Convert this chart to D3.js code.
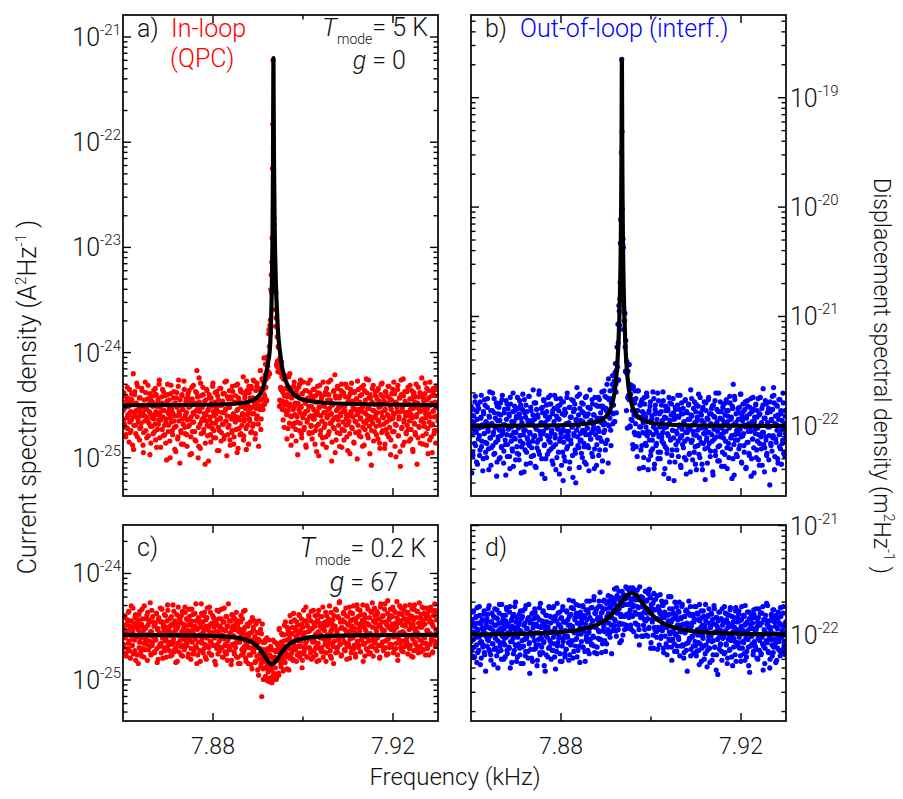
<!DOCTYPE html>
<html>
<head>
<meta charset="utf-8">
<script src="https://cdn.jsdelivr.net/npm/d3@7"></script>
<style>
  html, body { margin: 0; padding: 0; background: #fff; }
  svg { display: block; font-family: Roboto, "Open Sans", sans-serif; font-weight: 300; }
</style>
</head>
<body>
<svg id="chart" width="903" height="799"></svg>
<script>
// ---------------- data ----------------
// Frequency axis (kHz): spectrum bins are evenly spaced between these limits
const freqStart = 7.86;
const freqStop = 7.93;
const binCount = 1000;
const xMajorTicks = [7.88, 7.92];
const xMinorTicks = [7.90];

// Noise floor of each spectrum (A^2/Hz for a,c; m^2/Hz for b,d)
const aFloor = 3.16e-25;
const bFloor = 1.0e-22;
const cFloor = 2.66e-25;
const dFloor = 1.0e-22;

// Measured points: level of each bin relative to the floor, in 1/100 decade.
// Each spectrum is stored as its even-numbered bins and its odd-numbered bins.
const aEvenBins = [
-5,12,-18,-2,-30,8,-12,-22,3,-9,15,-26,-6,-14,5,-38,30,-19,10,-8,-27,2,-11,18,-16,
-4,-33,7,-21,-10,14,-7,-45,0,-15,22,-24,-3,-12,6,-29,-17,11,-8,-36,4,-20,-1,9,-13,
-25,16,-6,-40,-9,3,-18,20,-31,-2,-14,8,-23,-11,13,-5,-28,1,-16,-52,10,-7,-19,5,-34,
-12,19,-3,-24,-8,7,-15,-42,2,-20,12,-10,-30,24,-6,-55,0,-26,9,-13,-4,-37,15,-21,-9,
6,-28,-14,11,-2,-19,-47,4,-11,17,-25,-7,-16,1,-33,13,-5,33,8,-50,-39,3,-18,21,-27,
-1,-13,10,-23,-8,-56,5,-15,14,-29,-4,-20,7,-11,-35,2,-17,18,-6,-24,-9,12,-31,-3,-14,
9,-21,-43,0,-12,16,-26,-7,4,-18,-32,11,-5,-15,23,-10,-28,6,-19,-2,-38,8,-13,-24,13,
-8,-30,3,-16,19,-11,-45,-4,7,-22,-14,15,-27,-1,-9,12,-33,-15,7,-3,-22,23,-9,0,-37,
12,-15,-3,18,-25,-8,7,-18,23,1,-27,-3,18,-10,7,-39,16,-4,33,-13,6,24,-4,22,10,
8,39,25,5,44,27,68,56,76,69,124,136,225,328,196,172,110,75,83,37,42,56,37,-1,45,
17,2,27,4,-14,25,9,-5,28,3,-32,10,-5,27,-17,1,14,-11,-29,9,-4,18,-17,2,-23,
14,-11,-47,8,-4,20,-17,-1,-27,11,-10,22,-23,-8,2,-38,14,-16,-5,7,-26,-11,24,-20,-1,
-32,6,-13,15,-9,-24,3,-44,-6,12,-18,-2,19,-28,-10,8,-15,-37,1,-21,10,-7,-30,16,-12,
-4,22,-25,-9,5,-17,-53,0,-14,13,-22,29,9,-33,-11,18,-3,-19,7,-27,-8,14,-40,-1,-16,
11,-24,-5,20,-13,-30,2,-18,8,-10,-46,15,-7,-21,4,-2,-35,12,-15,-26,6,-9,23,-19,-4,
-29,9,-12,17,-6,-39,1,-16,14,-23,-8,25,-14,-3,-31,7,-20,10,-11,-57,3,-17,19,-5,-25,
13,-9,-28,6,-14,16,-2,-36,-19,10,-7,21,-24,-12,4,-41,-4,12,-16,-27,8,-10,18,-21,-1,
-33,5,-13,15,-8,-25,11,-18,-49,2,-6,19,-29,-11,7,-58,24,-22,-3,-38,9,-14,13,-7,-26,
1,-19,17,-10,-34,6,-4,-23,14,-12,-44,10,-17,3,-28,20,-9,-2,-31,8,-21,12,-6,-15,26,
-13,-37,4,-20,11,-8,-27,16,-3,-46,7,-16,22,-11,-30,2,-18,13,-5,-24,9,-36,15,-10,-1
];
const aOddBins = [
-14,-3,9,-21,-28,4,17,-9,-1,-35,-16,6,-24,11,2,-11,-42,-7,13,-19,-5,21,-30,-13,0,
7,-22,-8,-17,16,-2,-38,-26,5,-10,12,-4,-31,-15,19,1,-6,-47,-20,8,-12,3,-27,14,-9,
-18,-33,10,-1,-23,6,-14,24,-7,-40,-11,2,15,-29,-5,-19,9,-36,-13,4,20,-25,-8,-3,-50,
11,-16,-6,-28,1,13,-21,-10,-44,7,-2,-32,18,-15,-9,5,-24,-37,10,-4,-18,23,-12,-27,3,
-7,-39,8,-20,14,-13,-1,-30,-46,6,-16,19,-8,-25,2,-34,12,-11,-3,-21,26,-6,-41,9,-15,
-2,17,-26,-12,4,-36,-9,15,-19,-5,-53,10,-14,-28,7,-1,-22,21,-31,-10,3,-17,-8,13,-43,
-6,5,-24,16,-13,-34,0,-18,11,-7,-29,22,-4,-15,-48,8,-21,-2,14,-33,-11,6,-26,18,-9,
-37,2,-14,9,-23,-5,20,-41,-12,4,-28,13,-1,-19,-8,27,-29,-13,10,0,-42,14,-19,-7,18,
-13,7,-26,16,-2,-20,24,-8,4,-32,14,-13,21,3,-18,15,-1,33,-23,5,25,0,15,45,1,
29,17,4,46,37,32,72,30,81,110,107,159,267,244,178,126,91,107,39,65,32,55,34,5,31,
15,41,-4,12,25,-21,0,16,27,-9,8,-22,15,-1,30,-10,-38,7,17,-20,-2,22,-9,0,-34,
10,-16,2,17,-24,-7,24,-2,-31,11,-12,5,-21,14,-6,-40,6,-14,21,-1,-27,12,-10,-19,9,
-26,15,-4,-13,-37,9,-20,3,18,-9,-48,-2,11,-24,6,-15,-31,22,-7,-1,-18,13,-40,-11,5,
-28,10,-3,-17,24,-8,-35,1,-21,14,-12,-45,7,-5,-26,16,-14,-2,-39,9,-10,20,-23,-6,12,
-33,-1,8,-19,-9,17,-43,4,-15,-27,11,-6,21,-22,-11,2,-36,13,-4,-16,6,-51,-8,15,-25,
3,-13,-30,10,-2,-21,19,-38,-7,5,-17,12,-28,-10,24,-3,-46,7,-14,-24,16,-5,-34,1,-12,
9,-20,-7,14,-32,-15,4,-41,-1,20,-26,-11,8,-18,-5,-37,13,-23,2,-9,18,-30,-14,6,-47,
-4,11,-25,-12,22,-8,-39,3,-19,-2,15,-29,-13,7,-44,-6,10,-21,-1,25,-16,-35,4,-10,-27,
13,-7,-23,1,-15,19,-32,-9,6,-42,-3,12,-18,-26,8,-11,-56,2,17,-20,-5,-36,10,-14,-1,
-29,7,-17,-4,21,-12,-38,5,-22,-8,14,-33,0,-19,9,-45,-6,16,-27,-11,3,-24,18,-2,-15
];

const bEvenBins = [
18,-43,4,-27,9,-3,22,-18,-6,13,-35,0,16,-9,-22,7,28,-14,-1,-30,11,-7,19,-24,3,
-16,25,-5,-40,8,-11,14,-20,2,30,-8,-26,12,-2,-15,21,-33,5,-10,17,-4,-29,10,-19,24,
-7,1,-23,15,-13,-45,6,20,-17,-3,11,-28,26,-9,-1,-21,13,-37,4,18,-12,-6,9,-25,16,
-2,-31,23,-14,7,-19,0,29,-8,-42,12,-4,19,-24,-11,5,-16,27,-6,-34,14,-20,2,10,-27,
21,-9,-1,-38,15,-15,8,-23,32,-5,-12,3,-30,17,-7,24,-18,-48,9,-2,13,-26,6,-13,20,
-10,28,-21,-4,11,-35,1,16,-8,-17,25,-29,7,-3,14,-44,19,-11,-6,22,-24,-50,-15,10,-32,
12,-5,26,-19,-9,3,-39,17,-13,8,-1,-27,23,-7,15,-22,-52,6,35,-10,0,-20,29,-14,5,
-25,13,-4,20,-16,-33,9,-8,27,-2,-18,11,-41,4,16,-12,-6,24,-28,1,10,-21,-3,19,-36,
7,-11,26,-5,-22,18,7,-14,-42,18,1,32,-4,-22,16,26,-13,10,43,0,7,25,-18,22,38,
2,19,41,4,57,31,51,41,93,42,105,116,167,188,335,198,171,88,96,103,50,49,59,-2,50,
28,56,0,29,6,34,14,-21,24,-6,32,2,-19,14,32,-7,8,-39,19,-1,22,-18,13,3,-29,
26,-7,8,-18,27,-5,-40,12,-13,18,-27,3,9,-21,-8,25,-35,15,-3,-16,6,30,-24,-10,11,
-30,2,19,-14,-6,23,-44,8,-19,14,-1,-25,16,-9,26,-33,5,-12,20,-22,-4,12,-50,7,17,
-17,9,-7,28,-28,1,15,-11,-38,21,-3,11,-20,4,-14,24,-31,13,-6,-2,19,-26,6,-42,10,
25,-13,-5,16,-24,3,-35,20,-9,8,-18,29,-1,-29,12,-15,5,-40,17,-7,22,-21,-3,14,-11,
-34,6,26,-16,0,-23,11,-8,18,-45,9,-12,23,-27,2,15,-5,-19,30,-32,7,-10,13,-2,-24,
19,-6,-37,10,-14,24,-20,4,14,-29,-1,21,-11,8,-48,16,38,-17,27,-8,3,-26,12,-13,6,
-21,17,-3,29,-33,9,-9,13,-18,1,22,-39,7,-15,18,-5,-25,11,-1,25,-30,4,-12,15,-43,
8,-7,20,-22,14,-2,-31,10,-16,26,-10,3,-36,19,-6,7,-20,23,-13,-27,12,-1,16,-9,-54,
13,-18,5,27,-11,35,21,-28,9,-15,1,18,-34,6,-8,24,-21,11,-3,-16,30,-25,2,14,-7
];
const bOddBins = [
10,-8,-24,15,3,-16,27,-5,-33,6,19,-12,-2,-27,22,8,-19,1,-41,13,-7,24,-15,4,-29,
17,-3,-21,9,31,-11,-36,2,14,-18,-6,25,-25,7,-1,-46,18,-13,11,-30,5,21,-9,-20,28,
-4,-34,12,1,-17,23,-8,-28,16,-2,9,-39,20,-14,4,-23,30,-6,-11,14,-31,7,-19,26,-1,
-26,11,-9,19,-43,3,15,-16,-4,24,-22,8,-35,13,-12,2,27,-18,-7,17,-28,5,-14,33,-10,
6,-37,21,-3,-20,10,-13,29,-26,1,-8,16,-44,12,-5,23,-17,3,-30,19,-9,-1,26,-23,8,
-15,20,-6,-32,14,-19,4,28,-11,-40,9,-2,18,-24,6,-14,25,-7,-36,11,-3,22,-28,15,-10,
2,-21,30,-12,-5,17,-33,8,-16,24,-1,-47,13,-9,20,-25,5,-4,27,-18,10,-38,16,-7,-13,
21,-29,4,12,-19,-6,26,-35,9,-2,17,-20,-8,33,-12,5,-25,20,-3,10,-39,26,-8,4,-17,
18,-2,-27,24,-11,12,3,31,-32,16,-6,3,27,-16,14,38,1,-34,24,13,32,-4,21,12,46,
11,34,4,49,38,12,72,54,76,110,92,131,189,250,269,166,163,88,96,72,78,14,48,26,56,
24,38,-1,25,37,5,-17,36,10,21,-8,25,9,-28,14,32,-9,-1,19,-22,8,24,-6,-38,11,
20,-16,-1,30,-9,4,-31,14,-6,22,-23,6,-13,31,-1,-39,11,19,-18,-6,12,-30,23,-9,-1,
-24,13,-10,5,31,-16,-2,-39,18,7,-21,-7,14,-48,2,21,-13,10,-27,-4,25,-11,6,-33,15,
-5,-22,19,-14,8,-1,28,-36,11,-9,-17,16,3,-29,23,-6,-44,12,-12,6,20,-25,-3,33,-15,
9,-31,1,-8,22,-19,13,-40,5,-4,18,-26,-11,26,-2,10,-35,15,-16,3,-7,-49,21,-13,7,
-20,24,-6,11,-28,2,16,-14,-42,19,-3,8,-23,30,-10,4,-32,13,-1,-18,22,-8,-37,6,17,
-11,3,-26,21,-5,14,-39,9,-16,-2,27,-21,6,-9,18,-30,1,-45,24,-13,11,-4,-28,16,-7,
12,-18,29,-10,-34,5,20,-7,-24,15,-1,-38,9,23,-15,2,-27,17,-5,-46,13,-12,26,-20,4,
-3,19,-29,8,-14,25,-8,-36,11,1,-21,16,-6,34,-17,-42,7,-10,20,-25,3,13,-31,-1,22,
-16,6,-23,15,-9,28,-40,2,-12,19,-4,-30,10,24,-19,-7,14,-35,5,-13,21,-2,-27,9,-11
];

const cEvenBins = [
5,-12,18,-3,9,-20,1,14,-8,22,-15,6,-1,27,-10,3,-18,11,-5,16,-24,8,-2,13,-27,
19,-7,2,-16,10,24,-13,4,-21,7,-4,15,-9,0,21,-14,12,-6,30,-19,3,-10,17,-2,8,
-17,11,-5,20,-26,6,14,-11,1,25,-8,-1,12,-22,9,4,-15,18,-3,7,-12,23,0,-7,15,
-20,2,10,-9,28,-4,-16,13,5,-12,19,-25,8,-1,16,-6,11,-19,3,22,-10,6,-14,26,-3,
9,-8,14,-21,1,17,-5,11,-13,24,4,-18,7,-2,20,-11,13,-27,6,-7,15,0,-15,10,29,
-4,12,-17,3,21,-9,8,-23,16,-1,5,-12,26,-6,10,-19,2,18,-10,7,-3,14,-28,11,23,
-9,3,15,-15,8,-3,24,-12,5,-21,12,-1,-9,17,-18,8,-6,29,-14,1,-11,13,-24,5,-1,
17,-16,5,-8,11,-21,8,-3,-27,13,-7,5,18,-19,1,-13,22,-15,7,-6,-25,0,10,-12,-2,
-19,11,-6,-28,2,16,-15,5,-11,-2,-25,10,-20,-8,2,-38,-5,-18,5,-27,-58,10,-32,-17,-25,
-7,-39,-17,-3,-28,-35,-14,-44,-19,-11,-33,-45,-43,-5,-36,-21,-38,-15,-42,-8,-24,-14,-38,6,-16,
-27,-7,-20,0,-34,-6,9,-26,-11,-18,7,-13,4,-33,-3,18,-19,1,-13,7,-23,-6,14,-14,4,
-25,-2,9,-11,19,-17,2,-6,15,-31,7,-1,-18,13,-12,26,-6,9,-21,3,17,-13,-3,13,-23,
6,-7,23,-15,8,0,-19,12,-10,19,3,-24,11,-3,17,-12,6,26,-16,8,-5,12,-25,18,0,
-11,15,-4,10,-20,21,5,-8,14,-27,8,-1,24,-12,4,-16,17,-5,30,-9,12,-20,7,14,-2,
21,-14,5,-8,18,-23,10,3,-11,26,-4,13,-17,8,20,-1,-13,15,2,-21,11,28,-6,17,-10,
6,23,-16,9,-3,14,-25,12,19,-8,4,-13,27,-2,10,-18,16,1,-11,22,-5,7,-20,13,25,
-7,11,3,-15,20,-1,15,-22,8,29,-10,5,17,-14,2,24,-6,12,-19,9,32,-4,14,-12,6,
18,-9,10,26,-17,4,-2,21,-13,7,16,-24,11,1,27,-8,13,-15,19,3,-6,23,-11,8,15,
-3,20,-18,12,5,28,-10,9,-1,17,-21,14,24,-7,6,-14,22,2,-12,11,30,-5,16,-16,7,
13,-8,25,-2,10,-19,18,4,-13,21,1,15,-9,26,-4,12,-17,8,19,-6,23,-11,3,14,-1
];
const cOddBins = [
-9,4,16,-2,-17,10,3,-13,21,-6,8,-22,13,0,-10,25,-4,7,-15,19,-1,11,-19,5,14,
-12,22,-3,8,-20,15,1,-8,27,-14,6,-5,18,-24,9,-1,14,-11,3,-18,23,-7,12,-2,-16,
10,-4,20,-13,5,-23,16,2,-9,12,-17,24,-3,7,-12,19,-6,1,-21,13,28,-10,4,-15,8,
-1,17,-19,9,-7,22,-14,3,-26,11,6,-8,26,-16,0,14,-11,18,-4,-20,10,2,-13,21,-6,
15,-10,4,-18,24,-2,9,-23,13,-7,19,1,-15,8,-4,29,-12,5,-19,16,-1,11,-25,7,20,
-8,2,18,-13,6,-21,14,-3,25,-11,8,-17,2,21,-7,-19,11,-1,16,-10,-25,14,3,-13,9,
-18,22,-6,7,-12,15,0,-21,12,-4,25,-16,4,-10,17,-24,8,-3,13,-14,2,-28,19,-9,8,
-1,-18,15,-12,21,-7,9,-21,3,-5,-27,12,-1,-14,15,-18,4,-11,23,-22,-1,-8,8,-27,1,
-12,12,-19,2,-32,-5,7,-16,13,-26,-5,-12,2,-33,-4,13,-23,-13,-30,1,-22,-7,-42,-14,-31,
-5,-31,-21,-43,-13,-31,-5,-41,-21,-44,-29,-14,-39,-24,-42,-7,-31,-16,-40,-22,-10,-36,5,-22,-12,
-30,1,-23,-11,-33,0,-15,12,-21,-5,-32,1,-13,6,-22,-7,12,-17,1,-24,20,-10,6,-14,-2,
12,-19,1,-6,18,-21,4,-11,10,-24,-2,23,-15,2,-8,13,-21,8,-3,18,-12,4,-17,22,-5,
6,-21,11,-6,18,-12,1,-25,14,-8,23,-13,8,0,-16,17,-3,-21,11,4,-9,21,-17,9,-2,
13,-8,27,-15,3,-22,10,-1,-11,18,-6,8,-17,23,2,-12,16,-4,31,-9,6,-19,13,-2,20,
-6,12,-15,25,1,-11,17,-8,9,-22,21,4,-13,14,-3,27,-10,6,-18,15,0,-7,24,-12,10,
3,-16,19,-5,12,28,-9,7,-20,16,-2,11,-14,24,-6,9,1,-17,21,-11,30,-4,13,-8,18,
-13,6,22,-3,15,-10,9,-21,26,0,12,-7,18,-15,4,29,-12,10,-5,20,-18,7,16,-9,24,
5,-11,17,-2,23,-14,8,11,-8,31,-19,13,-4,20,2,-12,25,-6,9,-16,15,1,27,-10,12,
-7,21,-1,14,-13,18,6,-20,24,-4,10,-15,28,3,-9,16,-2,22,-17,11,7,-11,19,-5,26,
9,-14,20,-3,15,-8,25,-12,4,17,-19,12,1,23,-6,10,-16,18,-1,29,-10,5,14,-7,21
];

const dEvenBins = [
-6,14,-19,3,22,-11,8,-2,17,-25,5,11,-14,26,-7,0,-21,13,6,-9,19,-16,2,-33,10,
15,-4,24,-13,7,-1,-18,12,20,-8,4,-27,9,16,-12,1,23,-5,-15,11,28,-10,6,-22,3,
18,-7,10,-3,-20,13,25,-14,2,8,-11,21,-30,5,14,-6,17,-17,0,26,-9,12,-24,7,-2,
9,19,-12,4,-26,15,-5,22,-10,1,11,-19,27,-3,6,-15,16,-8,-35,13,3,-21,20,-1,10,
-13,24,2,-9,17,-23,8,-4,14,-16,29,0,-11,9,21,-7,-28,12,5,-18,18,-2,7,-12,25,
-5,11,-22,16,3,-14,26,-8,6,-31,13,1,-10,20,-3,9,-17,15,4,-24,23,-6,12,-1,-20,
12,-13,21,-2,9,-23,17,5,-9,25,-6,8,31,-15,3,16,-4,20,-20,11,1,27,-10,7,18,
-6,11,26,-11,6,16,-24,23,-1,14,-14,20,3,31,-4,9,-9,25,13,-2,35,-16,20,7,24,
-11,16,4,31,-4,16,26,-16,21,4,31,10,-5,24,13,-8,30,5,20,31,2,16,27,-17,34,
23,9,30,14,33,4,43,20,33,9,24,-7,34,19,10,33,0,37,17,28,36,9,43,34,42,
35,20,43,9,31,28,17,26,3,34,21,32,10,36,26,9,33,-9,32,16,35,17,27,-1,32,
14,25,40,0,32,15,38,6,42,35,-12,28,14,24,0,38,7,15,33,3,15,-13,26,5,22,
37,-3,18,8,28,-12,10,21,-1,30,7,-18,18,13,-4,24,1,35,-11,14,-4,20,6,-15,18,
1,26,-10,14,-2,21,-19,9,16,3,28,-10,10,-16,17,4,-8,23,-33,9,20,-5,6,26,-13,
11,-2,18,-17,15,2,-10,26,-15,5,19,-7,-27,13,0,22,-12,9,-3,17,-22,6,28,-9,3,
-14,18,-1,11,-25,7,20,-6,14,-18,2,24,-11,10,-32,16,-4,6,21,-13,1,-8,15,-23,9,
13,-2,26,-16,4,-9,19,-21,11,0,-14,23,-5,8,17,-28,12,-3,7,-18,25,-10,2,16,-7,
22,-12,5,-24,14,1,-6,18,-17,9,27,-3,-20,12,4,-11,21,-34,10,-1,15,-8,6,-15,19,
-9,3,24,-13,8,-22,16,0,-5,20,-18,11,-2,26,-10,5,-26,14,2,29,-7,9,-16,13,-30,
7,-4,17,-19,23,-11,1,12,-8,18,-23,6,15,-3,-14,10,25,-17,4,-1,20,-12,8,-6,11
];
const dOddBins = [
8,-13,21,-4,11,-20,2,16,-9,25,-16,5,-2,18,-27,10,-6,14,-11,3,22,-18,7,-1,13,
-10,19,-5,27,-15,6,-23,12,1,-8,17,-13,24,-3,9,-19,15,-30,4,20,-7,11,-14,28,-1,
14,-22,6,-9,18,-2,23,-17,10,0,-12,26,-6,13,-25,8,-3,19,-14,5,30,-10,16,-20,2,
-8,12,-18,22,3,-11,17,-26,9,-4,24,-15,6,-1,14,-21,28,-7,11,-13,1,19,-24,7,15,
-5,21,-12,10,-28,16,2,-9,25,-18,7,-3,13,-16,22,-6,9,-33,18,-1,12,-20,4,26,-11,
17,-7,3,-14,25,-2,13,-20,17,3,-15,29,-7,10,0,21,-24,7,16,-10,26,-3,12,-17,4,
-13,22,-1,14,-7,32,-18,9,19,-5,6,-21,24,2,14,-10,28,-3,11,-14,17,5,-25,21,1,
14,-11,27,3,18,-15,10,-4,31,-6,23,2,-17,16,7,25,-8,13,-1,32,-10,20,7,23,-17,
14,-3,26,3,39,-4,20,13,-8,24,8,32,3,-15,29,17,1,36,11,25,-2,35,9,16,4,
31,8,42,13,27,-1,36,22,5,40,11,29,17,-5,40,27,10,36,5,33,44,19,6,36,28,
16,40,23,39,5,33,43,18,27,41,11,34,-1,41,19,25,5,44,19,32,-1,26,34,9,21,
5,40,13,31,20,-1,41,7,24,34,-7,20,12,29,-12,32,5,23,15,-2,36,7,24,-9,20,
14,-1,31,4,27,-16,16,7,30,-8,19,8,-11,35,3,19,-5,12,-23,24,3,15,-8,30,0,
17,-15,9,22,-4,30,3,-10,15,26,-9,9,-21,17,2,22,-14,11,6,-7,31,-3,18,-19,8,
-1,19,-10,12,26,-6,3,-19,20,0,14,-14,28,-8,7,-24,16,-1,22,-10,9,-17,13,4,-29,
17,-5,24,-12,8,-1,19,-23,10,-5,27,-11,3,16,-18,8,-36,13,-2,21,-9,4,-15,24,-3,
11,-17,2,20,-8,14,-26,7,-4,18,-13,25,-1,-20,9,3,-11,16,-6,22,-24,5,12,-9,19,
-2,13,-19,8,26,-12,4,-7,17,-23,10,1,-15,21,-4,-28,15,6,-10,19,-1,11,-18,23,-6,
16,-11,5,-21,12,-3,24,-14,9,0,-17,20,-8,-32,14,3,-12,18,-5,10,27,-15,7,-2,-22,
4,19,-9,13,-16,23,-4,8,-25,15,1,-12,21,-6,11,-19,17,-2,9,-14,26,-7,3,-18,12
];

// Fitted spectra (frequency in kHz, spectral density)
const aFitF = [7.86,7.8684,7.8814,7.8864,7.8889,7.8904,7.8914,7.8920,7.89265,7.89285,7.8930,7.8931,7.89318,7.89325,7.8933,7.89334,7.89337,7.8934,
               7.89343,7.89346,7.8935,7.89355,7.89362,7.8937,7.8938,7.89395,7.89415,7.8944,7.8948,7.8954,7.8964,7.8979,7.9004,7.9054,7.9184,7.93];
const aFitV = [3.16e-25,3.17e-25,3.21e-25,3.32e-25,3.54e-25,4.02e-25,5.09e-25,7.10e-25,1.09e-24,1.69e-24,2.86e-24,4.82e-24,8.78e-24,1.59e-23,3.28e-23,6.88e-23,1.60e-22,3.63e-22,6.3e-22,
               3.63e-22,1.60e-22,6.88e-23,3.28e-23,1.59e-23,8.78e-24,4.82e-24,2.86e-24,1.69e-24,1.09e-24,7.10e-25,5.09e-25,4.02e-25,3.54e-25,3.32e-25,3.21e-25,3.17e-25,3.16e-25];
const bFitF = [7.86,7.86853,7.88153,7.88653,7.88903,7.89053,7.89153,7.89213,7.89253,7.89278,7.89298,7.89313,7.89323,7.89331,7.89338,7.89343,7.89347,7.8935,7.89353,
               7.89356,7.89359,7.89363,7.89368,7.89375,7.89383,7.89393,7.89408,7.89428,7.89453,7.89493,7.89553,7.89653,7.89803,7.90053,7.90553,7.91853,7.93];
const bFitV = [1.0e-22,1.004e-22,1.019e-22,1.056e-22,1.136e-22,1.305e-22,1.686e-22,2.40e-22,3.74e-22,5.87e-22,1.004e-21,1.80e-21,3.11e-21,5.63e-21,1.166e-20,2.455e-20,5.70e-20,1.29e-19,2.24e-19,
               1.29e-19,5.70e-20,2.455e-20,1.166e-20,5.63e-21,3.11e-21,1.80e-21,1.004e-21,5.87e-22,3.74e-22,2.40e-22,1.686e-22,1.305e-22,1.136e-22,1.056e-22,1.019e-22,1.004e-22,1.0e-22];
const cFitF = [7.86,7.8711,7.8791,7.8841,7.8871,7.8891,7.8901,7.8911,7.8921,7.8926,7.8931,7.8936,7.8941,7.8951,7.8961,7.8971,7.8991,7.9021,7.9071,7.9151,7.93];
const cFitV = [2.648e-25,2.636e-25,2.602e-25,2.527e-25,2.397e-25,2.191e-25,2.015e-25,1.777e-25,1.528e-25,1.442e-25,1.41e-25,1.442e-25,1.528e-25,1.777e-25,2.015e-25,2.191e-25,2.397e-25,2.527e-25,2.602e-25,2.636e-25,2.651e-25];
const dFitF = [7.86,7.8707,7.8797,7.8847,7.8877,7.8897,7.8912,7.8927,7.8937,7.8947,7.8957,7.8967,7.8977,7.8987,7.9002,7.9017,7.9037,7.9067,7.9117,7.9207,7.93];
const dFitV = [1.0135e-22,1.027e-22,1.065e-22,1.1305e-22,1.228e-22,1.36e-22,1.535e-22,1.818e-22,2.07e-22,2.313e-22,2.42e-22,2.313e-22,2.07e-22,1.818e-22,1.535e-22,1.36e-22,1.228e-22,1.1305e-22,1.065e-22,1.027e-22,1.0142e-22];

// ---------------- drawing ----------------
const svg = d3.select('#chart');
svg.append('rect').attr('width', 903).attr('height', 799).attr('fill', '#fff');

const binWidth = (freqStop - freqStart) / binCount;
const binFreq = d3.range(binCount).map(n => freqStart + (n + 0.5) * binWidth);
const mergeBins = (even, odd) => d3.range(binCount).map(n => (n % 2 === 0 ? even[n >> 1] : odd[n >> 1]));
const RED = '#ff0000', BLUE = '#0000ff';

const panels = [
  { key: 'a', floor: aFloor, dev: mergeBins(aEvenBins, aOddBins), fitF: aFitF, fitV: aFitV, color: RED,
    box: [123, 438, 15, 496], logRange: [-25.363, -20.791], labelSide: 'left' },
  { key: 'b', floor: bFloor, dev: mergeBins(bEvenBins, bOddBins), fitF: bFitF, fitV: bFitV, color: BLUE,
    box: [471, 786, 15, 496], logRange: [-22.641, -18.244], labelSide: 'right' },
  { key: 'c', floor: cFloor, dev: mergeBins(cEvenBins, cOddBins), fitF: cFitF, fitV: cFitV, color: RED,
    box: [123, 438, 525, 721], logRange: [-25.385, -23.545], labelSide: 'left', xLabels: true },
  { key: 'd', floor: dFloor, dev: mergeBins(dEvenBins, dOddBins), fitF: dFitF, fitV: dFitV, color: BLUE,
    box: [471, 786, 525, 721], logRange: [-22.785, -20.995], labelSide: 'right', xLabels: true }
];

const MAJOR = 8, MINOR = 4.5;

function supText(sel, base, exp, baseSize, expSize, rise) {
  sel.append('tspan').style('font-size', baseSize + 'px').text(base);
  sel.append('tspan').attr('dy', -rise).style('font-size', expSize + 'px').text(exp);
}

panels.forEach(p => {
  const [L, R, T, B] = p.box;
  const x = d3.scaleLinear().domain([freqStart, freqStop]).range([L, R]);
  const y = d3.scaleLog().domain([Math.pow(10, p.logRange[0]), Math.pow(10, p.logRange[1])]).range([B, T]);
  const g = svg.append('g').attr('class', 'panel-' + p.key);

  const clipId = 'clip-' + p.key;
  svg.append('clipPath').attr('id', clipId)
    .append('rect').attr('x', L).attr('y', T).attr('width', R - L).attr('height', B - T);

  const pts = binFreq.map((f, i) => ({ f, v: p.floor * Math.pow(10, p.dev[i] / 100) }));
  g.append('g').attr('clip-path', `url(#${clipId})`)
    .selectAll('circle').data(pts).join('circle')
    .attr('cx', d => x(d.f)).attr('cy', d => y(d.v)).attr('r', 2.6)
    .attr('fill', p.color);

  const fit = p.fitF.map((f, i) => ({ f, v: p.fitV[i] }));
  g.append('path').datum(fit)
    .attr('clip-path', `url(#${clipId})`)
    .attr('fill', 'none').attr('stroke', '#000').attr('stroke-width', 4.2)
    .attr('stroke-linejoin', 'round')
    .attr('d', d3.line().x(d => x(d.f)).y(d => y(d.v)).curve(d3.curveMonotoneX));

  // frame
  g.append('rect').attr('x', L).attr('y', T).attr('width', R - L).attr('height', B - T)
    .attr('fill', 'none').attr('stroke', '#000').attr('stroke-width', 1.7);

  // x ticks on bottom and top, pointing inward
  const xt = xMajorTicks.map(v => ({ v, len: MAJOR })).concat(xMinorTicks.map(v => ({ v, len: MINOR })));
  xt.forEach(t => {
    g.append('line').attr('x1', x(t.v)).attr('x2', x(t.v)).attr('y1', B).attr('y2', B - t.len)
      .attr('stroke', '#000').attr('stroke-width', 1.4);
    g.append('line').attr('x1', x(t.v)).attr('x2', x(t.v)).attr('y1', T).attr('y2', T + t.len)
      .attr('stroke', '#000').attr('stroke-width', 1.4);
  });

  // log ticks on left and right, pointing inward
  const yt = [];
  for (let e = Math.floor(p.logRange[0]); e <= Math.ceil(p.logRange[1]); e++) {
    for (let m = 1; m <= 9; m++) {
      const lv = e + Math.log10(m);
      if (lv >= p.logRange[0] - 1e-9 && lv <= p.logRange[1] + 1e-9) yt.push({ e, m, v: m * Math.pow(10, e) });
    }
  }
  yt.forEach(t => {
    const len = t.m === 1 ? MAJOR : MINOR;
    const yy = y(t.v);
    g.append('line').attr('x1', L).attr('x2', L + len).attr('y1', yy).attr('y2', yy)
      .attr('stroke', '#000').attr('stroke-width', 1.4);
    g.append('line').attr('x1', R).attr('x2', R - len).attr('y1', yy).attr('y2', yy)
      .attr('stroke', '#000').attr('stroke-width', 1.4);
  });

  // decade labels
  yt.filter(t => t.m === 1).forEach(t => {
    const yy = y(t.v);
    const txt = g.append('text').attr('y', yy + 9).attr('fill', '#111');
    if (p.labelSide === 'left') txt.attr('x', L - 2).attr('text-anchor', 'end');
    else txt.attr('x', R + 4).attr('text-anchor', 'start');
    supText(txt, '10', '-' + Math.abs(t.e), 25, 15, 11);
  });

  if (p.xLabels) {
    xMajorTicks.forEach(v => {
      g.append('text').attr('x', x(v)).attr('y', 754).attr('text-anchor', 'middle')
        .style('font-size', '23px').attr('fill', '#111').text(v.toFixed(2));
    });
  }
});

// panel annotations
function label(x, y, str, color, size) {
  return svg.append('text').attr('x', x).attr('y', y).attr('fill', color)
    .style('font-size', size + 'px').text(str);
}
label(137, 37, 'a)', '#111', 25);
label(171, 37, 'In-loop', RED, 25);
label(170, 67, '(QPC)', RED, 25);
label(485, 37, 'b)', '#111', 25);
label(520, 37, 'Out-of-loop (interf.)', BLUE, 25);
label(137, 556, 'c)', '#111', 25);
label(485, 556, 'd)', '#111', 25);

function modeLabel(xEnd, yBase, tval, yG, gval, xGEnd, tSize, gSize) {
  const t = svg.append('text').attr('x', xEnd).attr('y', yBase).attr('text-anchor', 'end').attr('fill', '#111');
  t.append('tspan').style('font-size', tSize + 'px').style('font-style', 'italic').text('T');
  t.append('tspan').attr('dy', 8).style('font-size', '14px').text('mode');
  t.append('tspan').attr('dy', -8).style('font-size', '25px').text('= ' + tval + ' K');
  const gl = svg.append('text').attr('x', xGEnd).attr('y', yG).attr('text-anchor', 'end').attr('fill', '#111');
  gl.append('tspan').style('font-size', gSize + 'px').style('font-style', 'italic').text('g');
  gl.append('tspan').style('font-size', '25px').text(' = ' + gval);
}
modeLabel(428, 36, '5', 69, '0', 406, 26, 25);
modeLabel(426, 557, '0.2', 591, '67', 398, 27, 27);

// axis titles
svg.append('text').attr('x', 455).attr('y', 785).attr('text-anchor', 'middle')
  .style('font-size', '24px').attr('fill', '#111').text('Frequency (kHz)');

const lt = svg.append('text').attr('transform', 'translate(36,397) rotate(-90)')
  .attr('text-anchor', 'middle').style('font-size', '25px').attr('fill', '#111');
lt.append('tspan').text('Current spectral density (A');
lt.append('tspan').attr('dy', -10).style('font-size', '15px').text('2');
lt.append('tspan').attr('dy', 10).text('Hz');
lt.append('tspan').attr('dy', -10).style('font-size', '15px').text('-1');
lt.append('tspan').attr('dy', 10).text(' )');

const rt = svg.append('text').attr('transform', 'translate(874,376) rotate(90)')
  .attr('text-anchor', 'middle').style('font-size', '23px').attr('fill', '#111');
rt.append('tspan').text('Displacement spectral density (m');
rt.append('tspan').attr('dy', -10).style('font-size', '14px').text('2');
rt.append('tspan').attr('dy', 10).text('Hz');
rt.append('tspan').attr('dy', -10).style('font-size', '14px').text('-1');
rt.append('tspan').attr('dy', 10).text(' )');
</script>
</body>
</html>
